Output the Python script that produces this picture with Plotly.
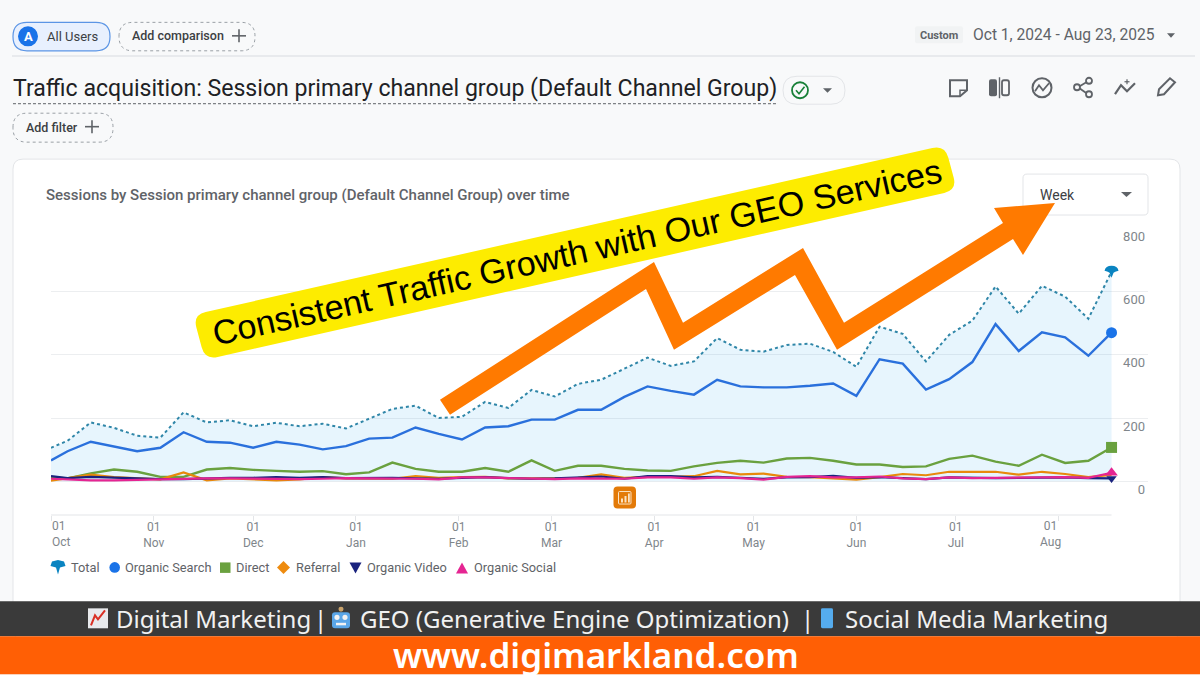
import plotly.graph_objects as go

# weekly points
week_dates = [
    "2024-10-01", "2024-10-06", "2024-10-13", "2024-10-20", "2024-10-27",
    "2024-11-03", "2024-11-10", "2024-11-17", "2024-11-24",
    "2024-12-01", "2024-12-08", "2024-12-15", "2024-12-22", "2024-12-29",
    "2025-01-05", "2025-01-12", "2025-01-19", "2025-01-26",
    "2025-02-02", "2025-02-09", "2025-02-16", "2025-02-23",
    "2025-03-02", "2025-03-09", "2025-03-16", "2025-03-23", "2025-03-30",
    "2025-04-06", "2025-04-13", "2025-04-20", "2025-04-27",
    "2025-05-04", "2025-05-11", "2025-05-18", "2025-05-25",
    "2025-06-01", "2025-06-08", "2025-06-15", "2025-06-22", "2025-06-29",
    "2025-07-06", "2025-07-13", "2025-07-20", "2025-07-27",
    "2025-08-03", "2025-08-10", "2025-08-17",
]
total = [106, 128, 186, 169, 144, 138, 218, 186, 193, 174, 185, 174, 182, 167, 198, 229,
         239, 200, 204, 251, 232, 289, 268, 308, 321, 355, 391, 365, 379, 453, 416, 410,
         431, 435, 409, 362, 489, 466, 379, 463, 508, 616, 530, 618, 584, 514, 663]
organic_search = [66, 95, 125, 111, 95, 106, 155, 125, 122, 106, 125, 116, 101, 111, 135, 138,
                  170, 150, 132, 170, 174, 195, 195, 226, 226, 267, 300, 286, 274, 321, 300, 297,
                  297, 302, 309, 270, 386, 372, 290, 323, 377, 497, 412, 471, 455, 397, 470]
direct = [13, 9, 25, 37, 30, 14, 14, 37, 42, 36, 33, 30, 32, 22, 28, 59,
          39, 30, 30, 42, 30, 66, 33, 49, 49, 39, 34, 33, 47, 58, 65, 59,
          72, 74, 65, 53, 53, 45, 47, 71, 81, 62, 49, 84, 58, 65, 107]
referral = [2, 9, 21, 13, 9, 6, 28, 3, 9, 6, 3, 6, 13, 9, 8, 8,
            16, 11, 13, 14, 9, 8, 9, 11, 22, 11, 14, 14, 16, 33, 22, 24,
            14, 13, 9, 5, 13, 23, 19, 30, 30, 30, 21, 30, 23, 13, 20]
organic_video = [16, 10, 14, 12, 8, 7, 7, 10, 11, 11, 13, 11, 13, 10, 11, 11,
                 9, 8, 11, 13, 10, 8, 9, 13, 15, 8, 16, 16, 12, 14, 10, 8,
                 12, 13, 17, 11, 13, 10, 7, 12, 10, 10, 11, 12, 12, 10, 9]
organic_social = [8, 6, 3, 3, 5, 6, 7, 9, 9, 8, 8, 7, 8, 10, 9, 9,
                  8, 6, 12, 12, 10, 8, 7, 9, 9, 8, 12, 12, 8, 12, 10, 5,
                  14, 16, 12, 12, 15, 9, 7, 12, 10, 10, 12, 12, 13, 11, 27]

month_ticks = ["2024-10-01", "2024-11-01", "2024-12-01", "2025-01-01", "2025-02-01", "2025-03-01",
               "2025-04-01", "2025-05-01", "2025-06-01", "2025-07-01", "2025-08-01"]
month_labels = ["", "01<br>Nov", "01<br>Dec", "01<br>Jan", "01<br>Feb", "01<br>Mar",
                "01<br>Apr", "01<br>May", "01<br>Jun", "01<br>Jul", ""]
y_ticks = [0, 200, 400, 600, 800]

# plot area in page pixels
L, R, T, B = 51, 1148, 228, 515.5
UI_FONT = "Roboto"
GREY = "#5f6368"
TICK_GREY = "#80868b"


def px(x):
    return (x - L) / (R - L)


def py(y):
    return (B - y) / (B - T)


def poly(points, close=True):
    s = "M " + " L ".join(f"{px(x):.5f},{py(y):.5f}" for x, y in points)
    return s + (" Z" if close else "")


def round_poly(points, r):
    # polygon with rounded corners, points in page pixels
    parts = []
    n = len(points)
    for i in range(n):
        x, y = points[i]
        x0, y0 = points[i - 1]
        x1, y1 = points[(i + 1) % n]
        d0 = ((x0 - x) ** 2 + (y0 - y) ** 2) ** 0.5
        d1 = ((x1 - x) ** 2 + (y1 - y) ** 2) ** 0.5
        a = (x + (x0 - x) * r / d0, y + (y0 - y) * r / d0)
        b = (x + (x1 - x) * r / d1, y + (y1 - y) * r / d1)
        parts.append(("M " if i == 0 else "L ") + f"{px(a[0]):.5f},{py(a[1]):.5f}")
        parts.append(f"Q {px(x):.5f},{py(y):.5f} {px(b[0]):.5f},{py(b[1]):.5f}")
    return " ".join(parts) + " Z"


shapes = []
annotations = []


def path(d, fill="rgba(0,0,0,0)", line=None, width=0, dash=None, layer="above"):
    shapes.append(dict(type="path", xref="paper", yref="paper", path=d, fillcolor=fill, layer=layer,
                       line=dict(color=line or "rgba(0,0,0,0)", width=width, dash=dash)))


def rrect(x0, y0, x1, y1, r, fill="rgba(0,0,0,0)", line=None, width=1, dash=None, layer="above"):
    path(round_poly([(x0, y0), (x1, y0), (x1, y1), (x0, y1)], r), fill, line, width if line else 0, dash, layer)


def rect(x0, y0, x1, y1, fill, layer="above"):
    path(poly([(x0, y0), (x1, y0), (x1, y1), (x0, y1)]), fill, layer=layer)


def circle(cx, cy, r, fill="rgba(0,0,0,0)", line=None, width=0):
    shapes.append(dict(type="circle", xref="paper", yref="paper", x0=px(cx - r), x1=px(cx + r),
                       y0=py(cy + r), y1=py(cy - r), fillcolor=fill,
                       line=dict(color=line or "rgba(0,0,0,0)", width=width)))


def stroke(points, color=GREY, width=2):
    path(poly(points, close=False), line=color, width=width)


def text(x, y, s, size=13, color="#3c4043", anchor="left", family=UI_FONT, weight=None, angle=0):
    annotations.append(dict(xref="paper", yref="paper", x=px(x), y=py(y), text=s, showarrow=False,
                            xanchor=anchor, yanchor="middle", textangle=angle, borderpad=0, borderwidth=0,
                            align=anchor, font=dict(family=family, size=size, color=color, weight=weight)))


# page furniture
rrect(13, 159, 1180, 640, 10, fill="#ffffff", line="#e3e5e8", layer="below")
rect(12, 55, 1195, 56.5, "#e3e5e8", layer="below")

rrect(13, 22, 110, 50.5, 14, fill="#e8f0fe", line="#5b95e5", width=1.2)
circle(28, 36, 10, fill="#1a73e8")
text(28, 36.5, "A", 13, "#ffffff", "center", weight=700)
text(47, 36.5, "All Users", 13)
rrect(119, 22, 255, 50.5, 14, line="#9aa0a6", dash="dot")
text(132, 35.5, "Add comparison", 12.5, "#3c4043", weight=500)
stroke([(232, 35.5), (246, 35.5)], GREY, 1.6)
stroke([(239, 29), (239, 42)], GREY, 1.6)

rrect(915, 26, 963, 43, 2, fill="#f1f3f4")
text(939, 35, "Custom", 11, "#5f6368", "center", weight=700)
text(973, 34.5, "Oct 1, 2024 - Aug 23, 2025", 15.6, "#5f6368")
path(poly([(1167, 33), (1175, 33), (1171, 37.5)]), GREY)

text(13, 88, "Traffic acquisition: Session primary channel group (Default Channel Group)", 23.1, "#202124")
path(poly([(13, 103.5), (778, 103.5)], close=False), line="#5f6368", width=1, dash="3px,2px")
rrect(783, 76, 845, 104, 14, line="#e3e5e8")
circle(800, 90, 8, line="#188038", width=1.8)
stroke([(796, 90), (799, 93.5), (804.5, 86.5)], "#188038", 1.6)
path(poly([(823, 88), (832, 88), (827.5, 92.5)]), GREY)

# toolbar icons
path(poly([(950, 80), (967, 80), (967, 90), (960, 96), (950, 96)]), line=GREY, width=2)
stroke([(967, 90), (960, 90), (960, 96)], GREY, 1.5)
rrect(989, 79, 997, 96, 2, fill=GREY)
stroke([(999.5, 77), (999.5, 98)], GREY, 1.4)
rrect(1002, 80, 1009, 95, 2, line=GREY, width=1.8)
circle(1042, 87.5, 9.5, line=GREY, width=2)
stroke([(1035, 91), (1039, 85), (1043, 90), (1049, 83)], GREY, 1.8)
stroke([(1078, 87), (1088, 81)], GREY, 1.8)
stroke([(1078, 87), (1088, 94)], GREY, 1.8)
circle(1077, 87, 3, fill="#f8f9fa", line=GREY, width=1.8)
circle(1089, 80.5, 3, fill="#f8f9fa", line=GREY, width=1.8)
circle(1089, 94, 3, fill="#f8f9fa", line=GREY, width=1.8)
stroke([(1115, 94), (1121, 85), (1127, 91), (1135, 83)], GREY, 2.2)
stroke([(1127, 79), (1127, 84)], GREY, 1.2)
stroke([(1124.5, 81.5), (1129.5, 81.5)], GREY, 1.2)
path(poly([(1158, 95), (1159, 89), (1170, 78), (1175, 82), (1164, 94)]), line=GREY, width=2)

rrect(13, 113, 113, 142, 14, line="#9aa0a6", dash="dot")
text(26, 127, "Add filter", 12.5, "#3c4043", weight=500)
stroke([(85, 126.5), (99, 126.5)], GREY, 1.6)
stroke([(92, 120), (92, 133)], GREY, 1.6)

text(46, 195, "Sessions by Session primary channel group (Default Channel Group) over time", 15, "#5f6368", weight=500)
rrect(1023, 174, 1148, 215, 4, fill="#ffffff", line="#e3e5e8")
text(1040, 194.5, "Week", 14, "#3c4043")
path(poly([(1121, 192), (1132, 192), (1126.5, 197)]), GREY)

# report badge under the lines
rrect(613.5, 487, 636, 509, 4, fill="#e37a08")
rrect(618.5, 492, 631, 504.5, 1, line="#fbe3c4", width=1)
rect(621, 499, 623, 503, "#fbe3c4")
rect(624.5, 496.5, 626.5, 503, "#fbe3c4")
rect(628, 494, 629.8, 503, "#fbe3c4")

# legend row
LEGEND_Y = 568
path(poly([(50.5, 566.5), (52, 562), (58, 560.5), (64, 562), (65.5, 566.5), (60, 568), (58, 575), (56, 568)]), "#0a84c1")
text(71, LEGEND_Y, "Total", 12.8, GREY)
circle(114.7, LEGEND_Y, 5.3, fill="#1a73e8")
text(125, LEGEND_Y, "Organic Search", 12.8, GREY)
rect(220, 563, 230.5, 573.5, "#6aa13f")
text(236, LEGEND_Y, "Direct", 12.8, GREY)
path(poly([(283.5, 561.5), (290, 568), (283.5, 574.5), (277, 568)]), "#ee8b0f")
text(296, LEGEND_Y, "Referral", 12.8, GREY)
path(poly([(349.5, 563), (361.5, 563), (355.5, 574)]), "#1a237e")
text(367, LEGEND_Y, "Organic Video", 12.8, GREY)
path(poly([(456, 574), (468, 574), (462, 563)]), "#e52592")
text(474, LEGEND_Y, "Organic Social", 12.8, GREY)

# x labels that sit off their ticks
text(52, 535, "01<br>Oct", 12, TICK_GREY)
text(1050, 535, "01<br>Aug", 12, TICK_GREY, "center")

# callout banner and arrow
path(round_poly([(193, 315), (945, 145), (957, 190), (205, 360)], 13), "#fdec00")
text(577, 252, "Consistent Traffic Growth with Our GEO Services", 34.2, "#000000", "center",
     family="Liberation Sans", angle=-12.7)
path(poly([(440, 400), (654, 262), (683, 323), (803, 248), (844, 323), (1003, 223), (994, 208),
           (1055, 203), (1023, 255), (1013, 239), (837, 350), (795, 275), (674, 350), (646, 289),
           (450, 415)]), "#ff7a00")

# footer bars
rect(0, 602, 1200, 637, "#3a3a3a")
rect(0, 637, 1200, 675, "#ff5f05")
rect(88, 609, 108, 629, "#e8eaed")
stroke([(91, 626), (95, 616), (98, 620), (105, 611)], "#d93025", 2)
rrect(332, 613, 350, 629, 3, fill="#5aa6e8")
circle(341, 610, 2.5, fill="#c9a26a")
circle(337, 618, 2.6, fill="#f2f2f2")
circle(345, 618, 2.6, fill="#f2f2f2")
rect(336, 623.5, 346, 626, "#f2f2f2")
rrect(821, 609, 833, 629, 1.5, fill="#55acee")
FOOT_FONT = "Noto Sans"
text(116, 619, "Digital Marketing", 24, "#f1f1f1", family=FOOT_FONT)
text(320, 619, "|", 24, "#f1f1f1", "center", family=FOOT_FONT)
text(360, 619, "GEO (Generative Engine Optimization)", 24, "#f1f1f1", family=FOOT_FONT)
text(807, 619, "|", 24, "#f1f1f1", "center", family=FOOT_FONT)
text(845, 619, "Social Media Marketing", 24, "#f1f1f1", family=FOOT_FONT)
text(596, 655.5, "www.digimarkland.com", 35, "#ffffff", "center", family=FOOT_FONT, weight=600)

# white break between the plot and the axis labels, plus the short x axis line
shapes.append(dict(type="rect", xref="paper", yref="paper", x0=px(1112.5), x1=px(1117), y0=py(482.5), y1=py(226),
                   fillcolor="#ffffff", line=dict(width=0), layer="between"))
shapes.append(dict(type="line", xref="x", yref="paper", x0=week_dates[0], x1=week_dates[-1], y0=0, y1=0,
                   line=dict(color="#e3e5e8", width=1), layer="between"))
# Total end marker: pin glyph anchored at the last point
shapes.append(dict(type="path", xref="x", yref="y", xsizemode="pixel", ysizemode="pixel",
                   xanchor=week_dates[-1], yanchor=total[-1],
                   path="M -7,1 Q -6,6 0,6 Q 6,6 7,1 Q 3,0 2,-1 L 0,-6 L -2,-1 Q -3,0 -7,1 Z",
                   fillcolor="#0a84c1", line=dict(width=0)))

series = [
    ("Total", total, "#2f86a8", "dot", 2),
    ("Organic Search", organic_search, "#2a70dc", "solid", 2.4),
    ("Direct", direct, "#6aa13f", "solid", 2.4),
    ("Referral", referral, "#e8890c", "solid", 2.2),
    ("Organic Video", organic_video, "#1a237e", "solid", 2.2),
    ("Organic Social", organic_social, "#e52592", "solid", 2.2),
]
end_markers = {
    "Organic Search": ("circle", "#1a73e8", 11),
    "Direct": ("square", "#6aa13f", 11),
    "Organic Video": ("triangle-down", "#1a237e", 9),
    "Organic Social": ("triangle-up", "#e52592", 11),
}

fig = go.Figure()
for name, values, color, dash, width in series:
    fig.add_trace(go.Scatter(
        x=week_dates, y=values, mode="lines", name=name, showlegend=False,
        line=dict(color=color, width=width, dash=dash),
        fill="tozeroy" if name == "Total" else None,
        fillcolor="rgba(20,160,240,0.10)" if name == "Total" else None,
    ))
for name, values, color, dash, width in series:
    if name in end_markers:
        symbol, marker_color, size = end_markers[name]
        fig.add_trace(go.Scatter(
            x=week_dates[-1:], y=values[-1:], mode="markers", showlegend=False, cliponaxis=False,
            marker=dict(symbol=symbol, color=marker_color, size=size, line=dict(width=0)),
        ))

fig.update_layout(
    width=1200, height=675,
    margin=dict(l=L, r=1200 - R, t=T, b=675 - B, pad=0),
    paper_bgcolor="#f8f9fa", plot_bgcolor="rgba(0,0,0,0)",
    showlegend=False, shapes=shapes, annotations=annotations,
    font=dict(family=UI_FONT, color=TICK_GREY),
    xaxis=dict(
        type="date", range=["2024-10-01", "2025-08-28"], tickvals=month_ticks, ticktext=month_labels,
        ticks="outside", ticklen=5, tickcolor="#e3e5e8", tickfont=dict(size=12, color=TICK_GREY),
        ticklabelstandoff=-4, showgrid=False, showline=False, zeroline=False,
    ),
    yaxis=dict(
        range=[-106.7, 801], tickvals=y_ticks, side="right", ticklabelposition="inside",
        ticklabelshift=8, tickfont=dict(size=13, color=TICK_GREY), ticks="",
        showgrid=True, gridcolor="#eceef0", gridwidth=1, zeroline=False, showline=False,
    ),
)

fig.write_html("out.html", config=dict(displayModeBar=False), post_script="document.body.style.margin='0';")
